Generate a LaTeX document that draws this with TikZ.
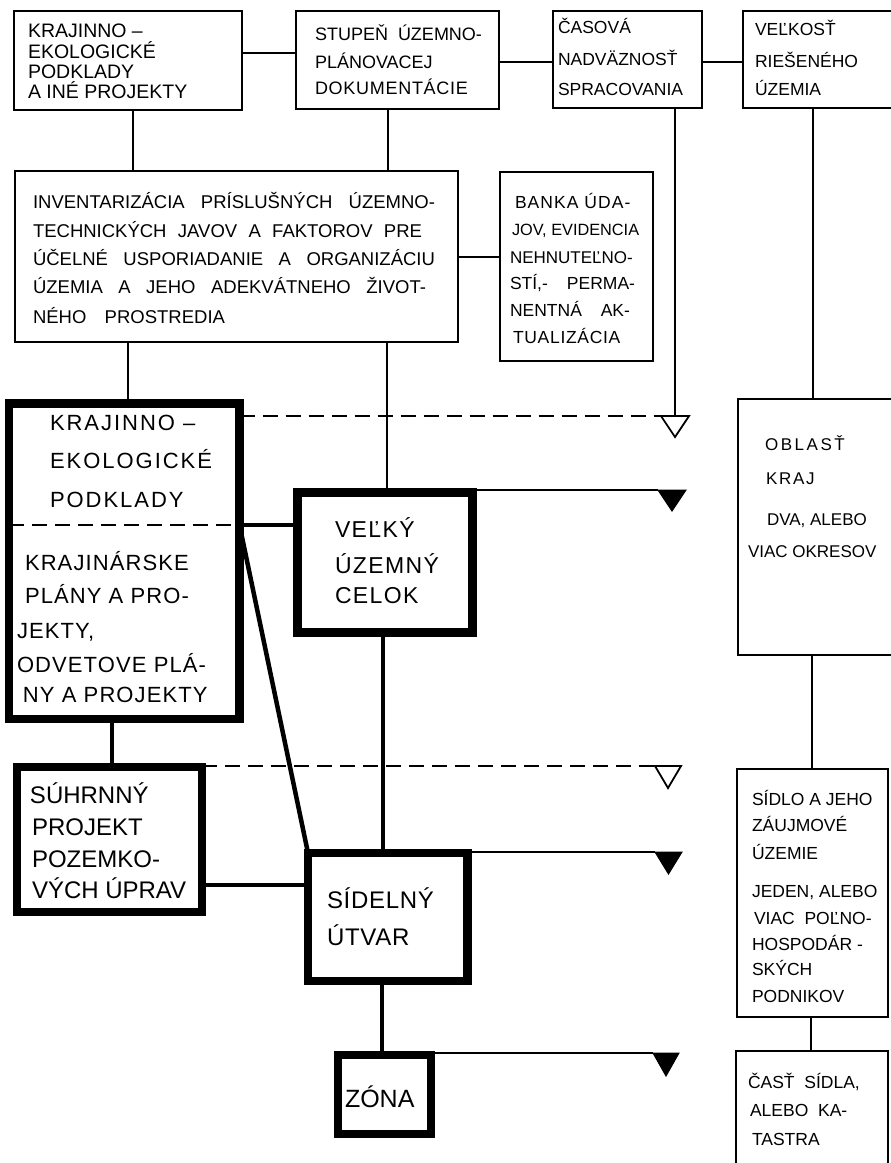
\documentclass[tikz,border=0pt]{standalone}
\usepackage{fontspec}
\setmainfont{Liberation Sans}
\usetikzlibrary{fit}
\newcommand{\fsz}[1]{\fontsize{#1}{#1}\selectfont}
\newcommand{\lsp}[1]{\addfontfeature{LetterSpace=#1}}
\newcommand{\tx}[5]{\node[txt,font=\fsz{#4}] (#1) at (#2,#3) {#5};}
\tikzset{
  thinbox/.style={draw, line width=2.6pt, inner sep=0pt, outer sep=0pt},
  heavybox/.style={draw, line width=8.5pt, inner sep=0pt, outer sep=0pt},
  thinline/.style={line width=1.8pt},
  heavyline/.style={line width=4.5pt},
  dashline/.style={line width=1.8pt, dash pattern=on 15pt off 8pt},
  txt/.style={anchor=base west, inner sep=0pt, outer sep=0pt},
  hollowtri/.style={line width=1.8pt, fill=white, line join=miter},
  solidtri/.style={line width=1pt, fill=black, line join=miter}
}
\begin{document}
\begin{tikzpicture}[x=1pt,y=-1pt]
\fill[white] (0,0) rectangle (891,1163);
\useasboundingbox (0,0) rectangle (891,1163);

% ---- boxes
\node[thinbox, fit={(14,11) (242,110)}] (A) {};
\node[thinbox, fit={(296,11) (499,109)}] (B) {};
\node[thinbox, fit={(553,11) (702,108)}] (C) {};
\node[thinbox, fit={(743,11) (905,108)}] (D) {};
\node[thinbox, fit={(15,171) (458,342)}] (inv) {};
\node[thinbox, fit={(500,172) (653,361)}] (banka) {};
\node[thinbox, fit={(738,399) (905,655)}] (obl) {};
\node[thinbox, fit={(737,769) (888,1017)}] (sidlo) {};
\node[thinbox, fit={(736,1051) (888,1180)}] (cast) {};

\node[heavybox, fit={(9,403.5) (239.5,719)}] (big) {};
\node[heavybox, fit={(297.5,492.5) (472.5,632.5)}] (velky) {};
\node[heavybox, fit={(17,767) (202,912)}] (suhrn) {};
\node[heavybox, fit={(308,853) (467.5,981)}] (sidel) {};
\node[heavybox, fit={(338,1055) (431,1134)}] (zona) {};

% ---- triangle corner coordinates
\coordinate (h1l) at (661,416);
\coordinate (h1t) at (675,416);
\coordinate (h2l) at (655,766);
\coordinate (f1l) at (658,490);
\coordinate (f2l) at (655,852);
\coordinate (f3l) at (653,1053);

% ---- thin connectors
\draw[thinline] (A.east |- 0,53) -- (B.west |- 0,53);
\draw[thinline] (B.east |- 0,62) -- (C.west |- 0,62);
\draw[thinline] (C.east |- 0,62) -- (D.west |- 0,62);
\draw[thinline] (A.south -| 133,0) -- (inv.north -| 133,0);
\draw[thinline] (B.south -| 388,0) -- (inv.north -| 388,0);
\draw[thinline] (inv.east |- 0,257) -- (banka.west |- 0,257);
\draw[thinline] (inv.south -| 128,0) -- (big.north -| 128,0);
\draw[thinline] (inv.south -| 387,0) -- (velky.north -| 387,0);
\draw[thinline] (C.south -| h1t) -- (h1t);
\draw[thinline] (D.south -| 813,0) -- (obl.north -| 813,0);
\draw[thinline] (obl.south -| 812,0) -- (sidlo.north -| 812,0);
\draw[thinline] (sidlo.south -| 811,0) -- (cast.north -| 811,0);
\draw[thinline] (velky.north east |- f1l) -- (f1l);
\draw[thinline] (sidel.north east |- f2l) -- (f2l);
\draw[thinline] (zona.north east |- f3l) -- (f3l);

% ---- dashed lines
\draw[dashline] (big.east |- h1l) -- (h1l);
\draw[dashline] (suhrn.east |- h2l) -- (h2l);
\draw[dashline] (big.west |- 0,525) -- (big.east |- 0,525);

% ---- heavy connectors
\draw[heavyline] (big.east |- 0,525) -- (velky.west |- 0,525);
\draw[heavyline] (big.east |- 0,525) -- (sidel.north west);
\draw[heavyline] (velky.south -| 383,0) -- (sidel.north -| 383,0);
\draw[heavyline] (big.south -| 112,0) -- (suhrn.north -| 112,0);
\draw[heavyline] (suhrn.east |- 0,885) -- (sidel.west |- 0,885);
\draw[heavyline] (sidel.south -| 382,0) -- (zona.north -| 382,0);

% ---- triangles
\draw[hollowtri] (h1l) -- ++(28,0) -- ++(-14,21) -- cycle;
\draw[hollowtri] (h2l) -- ++(26,0) -- ++(-13,22) -- cycle;
\draw[solidtri] (f1l) -- ++(28,0) -- ++(-14,21) -- cycle;
\draw[solidtri] (f2l) -- ++(27,0) -- ++(-13.5,22) -- cycle;
\draw[solidtri] (f3l) -- ++(26,0) -- ++(-13,23) -- cycle;

% ---- texts: top row
\tx{a1}{28}{37}{19.5}{KRAJINNO –}
\tx{a2}{28}{58}{19.5}{EKOLOGICKÉ}
\tx{a3}{28}{78}{19.5}{PODKLADY}
\tx{a4}{28}{98}{19.5}{A INÉ PROJEKTY}

\tx{b1}{315}{40}{18}{STUPEŇ \ ÚZEMNO-}
\tx{b2}{315}{68}{18}{PLÁNOVACEJ}
\tx{b3}{315}{94}{18}{{\lsp{4}DOKUMENTÁCIE}}

\tx{c1}{558}{33}{17.5}{ČASOVÁ}
\tx{c2}{558}{65}{17.5}{NADVÄZNOSŤ}
\tx{c3}{558}{95}{17.5}{SPRACOVANIA}

\tx{d1}{755}{35}{17.5}{VEĽKOSŤ}
\tx{d2}{755}{67}{17.5}{RIEŠENÉHO}
\tx{d3}{755}{95}{17.5}{ÚZEMIA}

% ---- inventory
\tx{i1}{33}{208}{18.5}{\makebox[402pt][s]{INVENTARIZÁCIA PRÍSLUŠNÝCH ÚZEMNO-}}
\tx{i2}{33}{237}{18.5}{\makebox[389pt][s]{TECHNICKÝCH JAVOV A FAKTOROV PRE}}
\tx{i3}{33}{265}{18.5}{\makebox[402pt][s]{ÚČELNÉ USPORIADANIE A ORGANIZÁCIU}}
\tx{i4}{33}{293}{18.5}{\makebox[393pt][s]{ÚZEMIA A JEHO ADEKVÁTNEHO ŽIVOT-}}
\tx{i5}{33}{323}{18.5}{\makebox[192pt][s]{NÉHO PROSTREDIA}}

% ---- banka
\tx{k1}{515}{208}{17.5}{{\lsp{6}BANKA ÚDA-}}
\tx{k2}{512}{235}{16.3}{JOV, EVIDENCIA}
\tx{k3}{510}{263}{17}{NEHNUTEĽNO-}
\tx{k4}{510}{289}{17.5}{\makebox[125pt][s]{STÍ,- PERMA-}}
\tx{k5}{510}{316}{17.5}{\makebox[120pt][s]{NENTNÁ AK-}}
\tx{k6}{513}{343}{17.5}{{\lsp{4}TUALIZÁCIA}}

% ---- big left box
\tx{g1}{50}{430}{22}{{\lsp{9}KRAJINNO –}}
\tx{g2}{50}{468}{22}{{\lsp{9}EKOLOGICKÉ}}
\tx{g3}{50}{507}{22}{{\lsp{9}PODKLADY}}
\tx{g4}{25}{570}{22}{{\lsp{5}KRAJINÁRSKE}}
\tx{g5}{25}{603}{22}{{\lsp{5}PLÁNY A PRO-}}
\tx{g6}{17}{638}{22}{{\lsp{5}JEKTY,}}
\tx{g7}{17}{672}{22}{{\lsp{5}ODVETOVE PLÁ-}}
\tx{g8}{23}{702}{22}{{\lsp{5}NY A PROJEKTY}}

% ---- velky
\tx{v1}{335}{537}{23}{{\lsp{6}VEĽKÝ}}
\tx{v2}{335}{573}{23}{{\lsp{6}ÚZEMNÝ}}
\tx{v3}{335}{603}{23}{{\lsp{6}CELOK}}

% ---- suhrnny
\tx{s1}{30}{803}{24}{SÚHRNNÝ}
\tx{s2}{32}{835}{24}{PROJEKT}
\tx{s3}{32}{867}{24}{POZEMKO-}
\tx{s4}{32}{898}{24}{VÝCH ÚPRAV}

% ---- sidelny, zona
\tx{e1}{327}{908}{24}{{\lsp{3}SÍDELNÝ}}
\tx{e2}{327}{945}{24}{{\lsp{3}ÚTVAR}}
\tx{z1}{345}{1107}{25}{ZÓNA}

% ---- right column
\tx{o1}{765}{450}{17}{{\lsp{15}OBLASŤ}}
\tx{o2}{766}{484}{17}{{\lsp{10}KRAJ}}
\tx{o3}{767}{525}{17}{DVA, ALEBO}
\tx{o4}{748}{557}{17}{VIAC OKRESOV}

\tx{p1}{752}{805}{17.5}{SÍDLO A JEHO}
\tx{p2}{752}{831}{17.5}{ZÁUJMOVÉ}
\tx{p3}{752}{859}{17.5}{ÚZEMIE}
\tx{p4}{752}{897}{17.5}{JEDEN, ALEBO}
\tx{p5}{754}{924}{17.5}{VIAC \ POĽNO-}
\tx{p6}{752}{950}{17.5}{HOSPODÁR -}
\tx{p7}{752}{975}{17.5}{SKÝCH}
\tx{p8}{752}{1002}{17.5}{PODNIKOV}

\tx{q1}{748}{1088}{17.5}{ČASŤ \ SÍDLA,}
\tx{q2}{750}{1116}{17.5}{ALEBO \ KA-}
\tx{q3}{752}{1145}{17.5}{TASTRA}
\end{tikzpicture}
\end{document}
